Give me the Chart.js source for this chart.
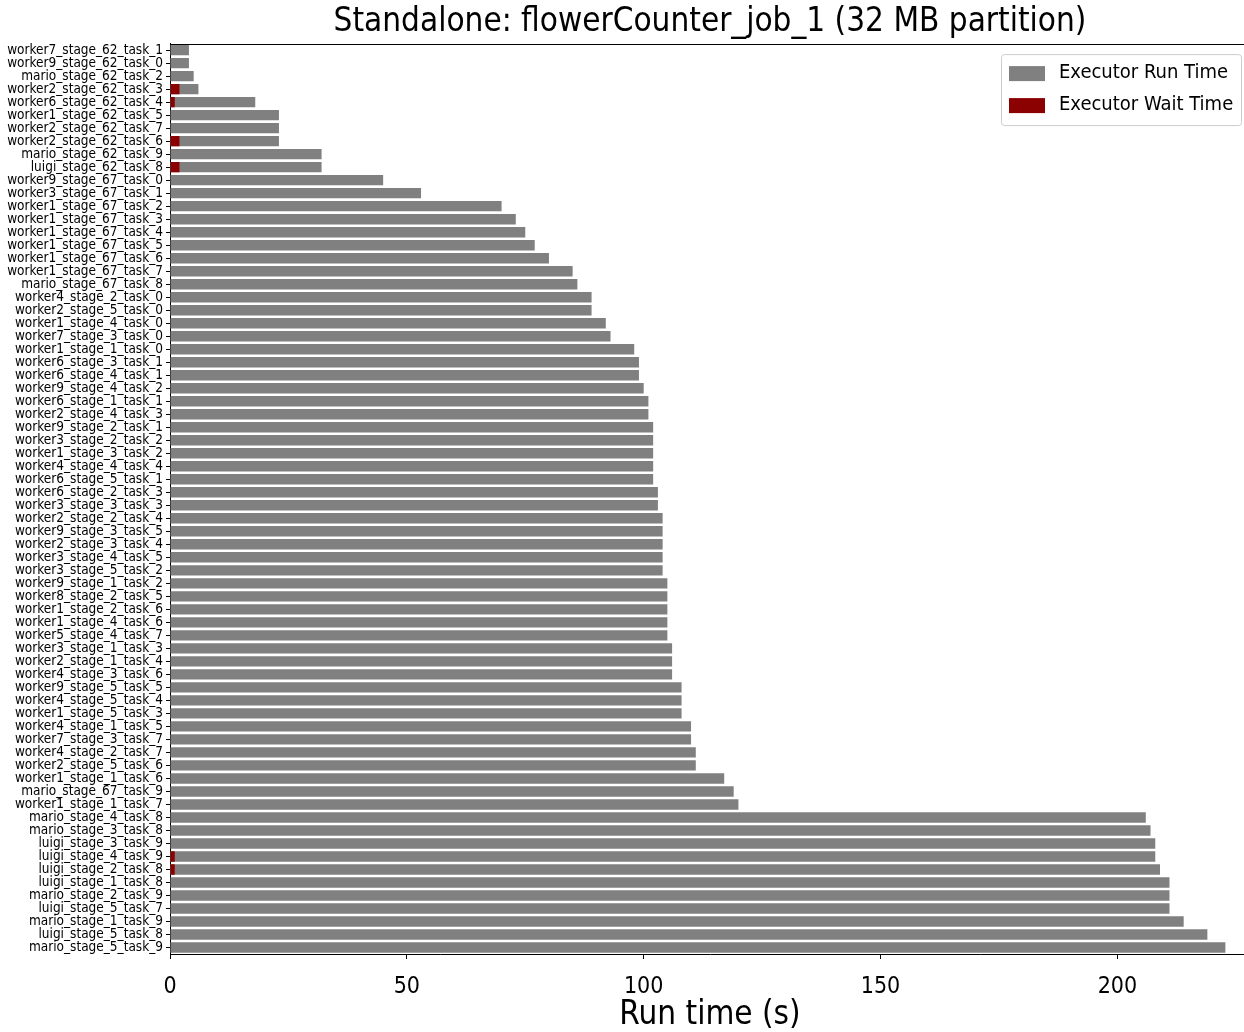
<!DOCTYPE html>
<html>
<head>
<meta charset="utf-8">
<title>Standalone: flowerCounter_job_1</title>
<script src="https://cdn.jsdelivr.net/npm/chart.js@4.4.1/dist/chart.umd.min.js"></script>
<style>
  html, body { margin: 0; padding: 0; background: #ffffff; overflow: hidden; }
  #wrap { width: 1244px; height: 1032px; overflow: hidden; position: relative; }
  #c { display: block; }
</style>
</head>
<body>
<div id="wrap"><canvas id="c" width="1256" height="1032"></canvas></div>
<script>
// Task names, top to bottom
const taskNames = [
  'worker7_stage_62_task_1', 'worker9_stage_62_task_0', 'mario_stage_62_task_2', 'worker2_stage_62_task_3',
  'worker6_stage_62_task_4', 'worker1_stage_62_task_5', 'worker2_stage_62_task_7', 'worker2_stage_62_task_6',
  'mario_stage_62_task_9', 'luigi_stage_62_task_8', 'worker9_stage_67_task_0', 'worker3_stage_67_task_1',
  'worker1_stage_67_task_2', 'worker1_stage_67_task_3', 'worker1_stage_67_task_4', 'worker1_stage_67_task_5',
  'worker1_stage_67_task_6', 'worker1_stage_67_task_7', 'mario_stage_67_task_8', 'worker4_stage_2_task_0',
  'worker2_stage_5_task_0', 'worker1_stage_4_task_0', 'worker7_stage_3_task_0', 'worker1_stage_1_task_0',
  'worker6_stage_3_task_1', 'worker6_stage_4_task_1', 'worker9_stage_4_task_2', 'worker6_stage_1_task_1',
  'worker2_stage_4_task_3', 'worker9_stage_2_task_1', 'worker3_stage_2_task_2', 'worker1_stage_3_task_2',
  'worker4_stage_4_task_4', 'worker6_stage_5_task_1', 'worker6_stage_2_task_3', 'worker3_stage_3_task_3',
  'worker2_stage_2_task_4', 'worker9_stage_3_task_5', 'worker2_stage_3_task_4', 'worker3_stage_4_task_5',
  'worker3_stage_5_task_2', 'worker9_stage_1_task_2', 'worker8_stage_2_task_5', 'worker1_stage_2_task_6',
  'worker1_stage_4_task_6', 'worker5_stage_4_task_7', 'worker3_stage_1_task_3', 'worker2_stage_1_task_4',
  'worker4_stage_3_task_6', 'worker9_stage_5_task_5', 'worker4_stage_5_task_4', 'worker1_stage_5_task_3',
  'worker4_stage_1_task_5', 'worker7_stage_3_task_7', 'worker4_stage_2_task_7', 'worker2_stage_5_task_6',
  'worker1_stage_1_task_6', 'mario_stage_67_task_9', 'worker1_stage_1_task_7', 'mario_stage_4_task_8',
  'mario_stage_3_task_8', 'luigi_stage_3_task_9', 'luigi_stage_4_task_9', 'luigi_stage_2_task_8',
  'luigi_stage_1_task_8', 'mario_stage_2_task_9', 'luigi_stage_5_task_7', 'mario_stage_1_task_9',
  'luigi_stage_5_task_8', 'mario_stage_5_task_9'
];

// Executor run time per task (s)
const runTime = [
  4, 4, 5, 6, 18, 23, 23, 23, 32, 32,
  45, 53, 70, 73, 75, 77, 80, 85, 86, 89,
  89, 92, 93, 98, 99, 99, 100, 101, 101, 102,
  102, 102, 102, 102, 103, 103, 104, 104, 104, 104,
  104, 105, 105, 105, 105, 105, 106, 106, 106, 108,
  108, 108, 110, 110, 111, 111, 117, 119, 120, 206,
  207, 208, 208, 209, 211, 211, 211, 214, 219, 222.8
];

// Executor wait time per task (s)
const waitTime = [
  0, 0, 0, 2, 1, 0, 0, 2, 0, 2,
  0, 0, 0, 0, 0, 0, 0, 0, 0, 0,
  0, 0, 0, 0, 0, 0, 0, 0, 0, 0,
  0, 0, 0, 0, 0, 0, 0, 0, 0, 0,
  0, 0, 0, 0, 0, 0, 0, 0, 0, 0,
  0, 0, 0, 0, 0, 0, 0, 0, 0, 0,
  0, 0, 1, 1, 0, 0, 0, 0, 0, 0
];

const xTickValues = [0, 50, 100, 150, 200];
const xMax = 228;

const FONT = '"DejaVu Sans Condensed", "DejaVu Sans", sans-serif';

// Boxed legend in the upper-right corner of the plot plus the top spine
const frameAndLegend = {
  id: 'frameAndLegend',
  afterDraw(chart) {
    const { ctx, chartArea } = chart;
    ctx.save();
    // top spine
    ctx.strokeStyle = '#000000';
    ctx.lineWidth = 1;
    ctx.beginPath();
    ctx.moveTo(chartArea.left, Math.round(chartArea.top) + 0.5);
    ctx.lineTo(chartArea.right, Math.round(chartArea.top) + 0.5);
    ctx.stroke();

    // legend
    const w = 240, h = 71;
    const x0 = chartArea.right - 9 - w;
    const y0 = chartArea.top + 10.5;
    ctx.beginPath();
    ctx.roundRect(x0 + 0.5, y0 + 0.5, w, h, 3);
    ctx.fillStyle = 'rgba(255,255,255,0.8)';
    ctx.fill();
    ctx.strokeStyle = '#cccccc';
    ctx.stroke();

    ctx.font = '20px ' + FONT;
    ctx.textBaseline = 'middle';
    ctx.textAlign = 'left';
    chart.data.datasets.forEach((ds, i) => {
      const cy = y0 + 19 + i * 32;
      ctx.fillStyle = ds.backgroundColor;
      ctx.fillRect(x0 + 8, cy - 7, 36, 15);
      ctx.fillStyle = '#000000';
      ctx.fillText(ds.label, x0 + 58, cy);
    });
    ctx.restore();
  }
};

new Chart(document.getElementById('c'), {
  type: 'bar',
  data: {
    labels: taskNames,
    datasets: [
      {
        label: 'Executor Run Time',
        data: runTime,
        backgroundColor: '#808080',
        grouped: false,
        order: 1,
        barPercentage: 0.8,
        categoryPercentage: 1.0
      },
      {
        label: 'Executor Wait Time',
        data: waitTime,
        backgroundColor: '#8b0000',
        grouped: false,
        order: 0,
        barPercentage: 0.8,
        categoryPercentage: 1.0
      }
    ]
  },
  options: {
    indexAxis: 'y',
    responsive: false,
    animation: false,
    layout: { padding: { left: 0, right: 6, top: 0, bottom: 0 } },
    plugins: {
      legend: { display: false },
      tooltip: { enabled: false },
      title: {
        display: true,
        fullSize: false,
        text: 'Standalone: flowerCounter_job_1 (32 MB partition)',
        color: '#000000',
        font: { family: FONT, size: 33, weight: 'normal', lineHeight: 1.2 },
        padding: { top: 3, bottom: 1 }
      }
    },
    scales: {
      x: {
        type: 'linear',
        min: 0,
        max: xMax,
        afterFit(scale) { scale.height = 78; },
        afterBuildTicks(scale) {
          scale.ticks = xTickValues.map(v => ({ value: v }));
        },
        ticks: {
          color: '#000000',
          font: { family: FONT, size: 23 },
          padding: 14,
          maxRotation: 0
        },
        grid: {
          display: true,
          drawOnChartArea: false,
          drawTicks: true,
          tickLength: 5,
          tickColor: '#000000',
          tickWidth: 1
        },
        border: { display: true, color: '#000000', width: 1 },
        title: {
          display: true,
          text: 'Run time (s)',
          color: '#000000',
          font: { family: FONT, size: 33, lineHeight: 1.0 },
          padding: { top: 0, bottom: 0 }
        }
      },
      y: {
        type: 'category',
        offset: true,
        afterFit(scale) { scale.width = 170; },
        ticks: {
          color: '#000000',
          font: { family: FONT, size: 13.5 },
          autoSkip: false,
          padding: 3
        },
        grid: {
          display: true,
          offset: false,
          drawOnChartArea: false,
          drawTicks: true,
          tickLength: 4,
          tickColor: '#000000',
          tickWidth: 1
        },
        border: { display: true, color: '#000000', width: 1 }
      }
    }
  },
  plugins: [frameAndLegend]
});
</script>
</body>
</html>
